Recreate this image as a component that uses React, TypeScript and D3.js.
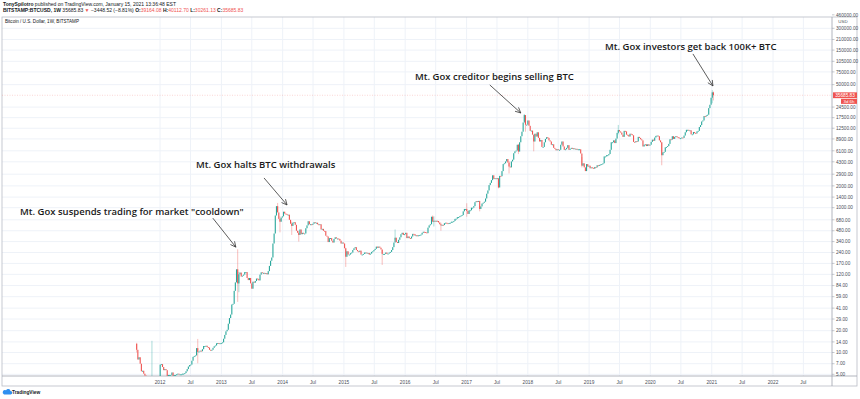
import React from 'react';
import * as d3 from 'd3';

// weekly closes, one array per year; each array starts on the first Monday listed
const start2011 = '2011-08-15';
const close2011 = [10.9, 8.0, 8.6, 7.0, 5.5, 5.6, 5.1, 4.8, 4.1, 3.5, 3.2, 3.3, 2.3, 2.5, 2.5, 2.8, 3.0, 3.3, 3.9, 4.6];
const start2012 = '2012-01-02';
const close2012 = [6.8, 6.9, 6.3, 5.7, 5.9, 5.7, 4.4, 4.9, 4.9, 4.9, 5.3, 4.7, 4.9, 4.9, 5.0, 5.1, 5.0, 5.0, 5.0, 5.1, 5.1, 5.2,
  5.5, 5.9, 6.4, 6.7, 6.8, 7.7, 8.7, 8.9, 9.1, 11.5, 10.2, 10.3, 10.6, 10.4, 11.1, 12.3, 12.3, 12.4, 11.9, 11.7, 10.9, 10.7,
  10.9, 11.6, 12.2, 12.5, 13.4, 13.5, 13.3, 13.4, 13.5];
const start2013 = '2013-01-07';
const close2013 = [13.8, 15.5, 17.5, 19.6, 20.6, 25.0, 29.9, 33.4, 46.0, 47.0, 71.0, 93.0, 141, 90, 120, 127, 112,
  115, 119, 129, 129, 107, 100, 107, 90, 76, 95, 92, 97, 105, 104, 99, 119, 128, 126, 126, 124, 125, 120,
  133, 157, 185, 205, 320, 440, 780, 1050, 860, 700, 640, 730, 760];
const start2014 = '2014-01-06';
const close2014 = [880, 830, 820, 800, 800, 680, 600, 560, 620, 630, 580, 480, 450, 420, 500, 430, 450,
  440, 440, 520, 570, 650, 590, 590, 580, 600, 630, 620, 620, 590, 580, 590, 500, 510,
  480, 475, 410, 400, 335, 380, 380, 350, 330, 370, 390, 375, 375, 370, 350, 320, 330, 320];
const start2015 = '2015-01-05';
const close2015 = [275, 210, 250, 225, 225, 235, 240, 260, 275, 285, 260, 250, 245, 255, 225, 225, 230,
  240, 240, 235, 237, 225, 232, 245, 250, 260, 270, 290, 280, 290, 280, 265, 230, 230,
  230, 240, 230, 232, 240, 245, 260, 285, 330, 385, 335, 325, 360, 390, 430, 450, 420, 430];
const start2016 = '2016-01-04';
const close2016 = [450, 380, 400, 380, 375, 400, 435, 430, 410, 415, 410, 415, 420, 425, 450, 465,
  460, 455, 445, 530, 570, 590, 750, 640, 660, 650, 660, 655, 625, 590, 570, 580, 575,
  610, 620, 610, 605, 615, 620, 640, 640, 655, 700, 705, 740, 740, 760, 775, 790, 890, 960, 960];
const start2017 = '2017-01-02';
const close2017 = [900, 820, 920, 920, 1000, 1000, 1050, 1190, 1230, 1210, 1240, 960, 1040, 1140, 1170, 1210, 1340,
  1560, 1730, 2050, 2200, 2400, 2800, 2500, 2550, 2500, 2550, 1900, 2750, 2720, 3200, 4000, 4100, 4350, 4700,
  4200, 3700, 3600, 4350, 4600, 5650, 6000, 6150, 7400, 5950, 8000, 9700, 11200, 15000, 19000, 14000, 14000];
const start2018 = '2018-01-01';
const close2018 = [16000, 13500, 11500, 11600, 10200, 8200, 10500, 9600, 11000, 9200, 8200, 8600, 6900,
  6900, 8000, 8900, 9400, 9200, 8500, 8200, 7400, 7500, 6700, 6500, 6200, 6400, 6300, 6300, 7400, 8200, 7000,
  6300, 6400, 6700, 7300, 6300, 6500, 6700, 6600, 6600, 6500, 6500, 6400, 6400, 6400, 5600, 3800, 4100,
  3600, 3200, 4000, 3700, 3800];
const start2019 = '2019-01-07';
const close2019 = [3500, 3600, 3550, 3450, 3650, 3600, 3850, 3800, 3900, 3950, 4000, 4100, 5100, 5100, 5300, 5300, 5500,
  6300, 8000, 8000, 8500, 7800, 9000, 10800, 11800, 11300, 10900, 10200, 9500, 11500, 11300, 10200, 10100, 9600,
  10500, 10300, 10000, 8100, 8000, 8300, 8200, 9500, 9200, 8800, 8500, 7000, 7400, 7500, 7100, 7500, 7200, 7400];
const start2020 = '2020-01-06';
const close2020 = [8100, 8700, 8400, 9300, 9800, 9900, 9700, 8500, 8000, 5300, 5800, 5900, 6800, 6900, 7100, 7600, 8800,
  8700, 9700, 8900, 9500, 9700, 9400, 9300, 9100, 9100, 9300, 9200, 9900, 11000, 11900, 11900, 11700, 11700,
  10300, 10300, 11100, 10700, 10600, 11300, 11500, 13000, 13800, 15500, 16000, 18400, 18200, 18800, 19200, 23700, 26400, 33000];
const start2021 = '2021-01-04';
const close2021 = [39134.35, 35685.83];
const firstOpen = 13.2;

// highs / lows of the weeks whose wicks stand out
const wickDates = ['2011-08-15', '2011-11-14', '2012-08-13', '2013-04-08', '2013-04-15', '2013-12-02', '2013-12-16',
  '2014-02-24', '2014-04-07', '2015-01-12', '2015-08-17', '2015-11-02', '2016-06-13', '2016-06-20', '2016-08-01',
  '2017-01-02', '2017-03-20', '2017-07-10', '2017-09-11', '2017-11-06', '2017-12-11', '2017-12-18', '2018-02-05',
  '2018-11-19', '2019-06-24', '2020-03-09', '2021-01-04', '2021-01-11'];
const wickHighs = [13.6, 14.5, 15.4, 266, 130, 1163, 760, 640, 480, 280, 260, 500, 780, 760, 620,
  1150, 1060, 2400, 4400, 7600, 19666, 19000, 9000, 5000, 13880, 8000, 42000, 40112.7];
const wickLows = [10.0, 2.0, 7.1, 50, 68, 870, 456, 420, 340, 152, 162, 360, 690, 550, 480,
  750, 890, 1850, 2970, 5500, 15700, 11200, 6000, 3600, 10300, 3850, 27700, 30261.13];

const priceTicks = [5, 7, 10, 14, 20, 29, 41, 59, 84, 120, 170, 240, 340, 480, 680, 1000, 1400, 2000, 2900, 4300,
  6100, 8900, 12500, 17500, 24500, 50000, 75000, 105000, 150000, 210000, 300000, 460000];
const lastPrice = 35685.83;

const noteTexts = ['Mt. Gox suspends trading for market "cooldown"', 'Mt. Gox halts BTC withdrawals',
  'Mt. Gox creditor begins selling BTC', 'Mt. Gox investors get back 100K+ BTC'];
const noteTipDates = ['2013-03-28', '2014-01-27', '2017-11-20', '2021-01-08'];
const noteTipPrices = [285, 1090, 20330, 48000];

const W = 860;
const H = 399;
const plot = { left: 2, right: 832, top: 17, bottom: 376 };
const UP = '#26a69a';
const DOWN = '#ef5350';
const GRID = '#eef2f8';
const AXIS_TEXT = '#4a4e59';
const SANS = '"Liberation Sans", Arial, sans-serif';

const parse = d3.utcParse('%Y-%m-%d');

const x = d3.scaleUtc()
  .domain([new Date(Date.UTC(2012, 0, 1)), new Date(Date.UTC(2022, 0, 1))])
  .range([160, 773]);
const y = d3.scaleLog().domain([5, 300000]).range([374.3, 28.3]);

const yearSeries = [
  [start2011, close2011], [start2012, close2012], [start2013, close2013], [start2014, close2014],
  [start2015, close2015], [start2016, close2016], [start2017, close2017], [start2018, close2018],
  [start2019, close2019], [start2020, close2020], [start2021, close2021],
] as [string, number[]][];

const App = () => {
  // candles: open is the previous week's close
  const wickMap = new Map<string, [number, number]>();
  wickDates.forEach((d, i) => wickMap.set(d, [wickHighs[i], wickLows[i]]));
  const fmt = d3.utcFormat('%Y-%m-%d');
  const candles: { date: Date; open: number; close: number; hl?: [number, number] }[] = [];
  let prev = firstOpen;
  yearSeries.forEach(([start, closes]) => {
    const s = parse(start)!;
    closes.forEach((c, i) => {
      const date = d3.utcDay.offset(s, i * 7);
      candles.push({ date, open: prev, close: c, hl: wickMap.get(fmt(date)) });
      prev = c;
    });
  });

  const timeTicks = d3.utcMonth.range(new Date(Date.UTC(2012, 0, 1)), new Date(Date.UTC(2022, 7, 1)), 6);
  const lastY = y(lastPrice);

  return (
    <svg width={W} height={H} style={{ position: 'absolute', left: 0, top: 0, background: '#fff' }}
      fontFamily={SANS}>
      <defs>
        <clipPath id="plotClip">
          <rect x={plot.left} y={plot.top} width={plot.right - plot.left} height={plot.bottom - plot.top} />
        </clipPath>
      </defs>

      {/* header */}
      <text x={3} y={5.5} fontSize={5} fill="#131722">
        <tspan fontWeight="bold">TonySpilotro</tspan> published on TradingView.com, January 15, 2021 13:36:48 EST
      </text>
      <text x={3} y={11.5} fontSize={5} fill="#131722">
        <tspan fontWeight="bold">BITSTAMP:BTCUSD, 1W</tspan> 35685.83 <tspan fill={DOWN}>▼</tspan> −3448.52 (−8.81%){' '}
        <tspan fontWeight="bold">O:</tspan><tspan fill={DOWN}>39164.08</tspan>{' '}
        <tspan fontWeight="bold">H:</tspan><tspan fill={DOWN}>40112.70</tspan>{' '}
        <tspan fontWeight="bold">L:</tspan><tspan fill={DOWN}>30261.13</tspan>{' '}
        <tspan fontWeight="bold">C:</tspan><tspan fill={DOWN}>35685.83</tspan>
      </text>

      {/* grid */}
      {priceTicks.filter(p => y(p) > plot.top).map(p => (
        <line key={'h' + p} x1={plot.left} x2={plot.right} y1={y(p)} y2={y(p)} stroke={GRID} strokeWidth={1} />
      ))}
      {timeTicks.map(t => (
        <line key={'v' + t.getTime()} x1={x(t)} x2={x(t)} y1={plot.top} y2={plot.bottom} stroke={GRID} strokeWidth={1} />
      ))}

      {/* frame */}
      <rect x={plot.left} y={plot.top} width={857 - plot.left} height={386 - plot.top} fill="none" stroke="#b8bcc6" strokeWidth={0.8} />
      <line x1={plot.right} x2={plot.right} y1={plot.top} y2={386} stroke="#9ea2ad" strokeWidth={0.8} />
      <line x1={plot.left} x2={857} y1={plot.bottom} y2={plot.bottom} stroke="#9ea2ad" strokeWidth={0.8} />

      <text x={5} y={23} fontSize={4.6} fill="#131722">Bitcoin / U.S. Dollar, 1W, BITSTAMP</text>

      {/* last price line */}
      <line x1={plot.left} x2={plot.right} y1={lastY} y2={lastY} stroke={DOWN} strokeOpacity={0.35}
        strokeWidth={0.7} strokeDasharray="1,1.5" />

      {/* candles */}
      <g clipPath="url(#plotClip)">
        {candles.map((c, i) => {
          const cx = x(c.date);
          const col = c.close >= c.open ? UP : DOWN;
          const y0 = y(c.open);
          const y1 = y(c.close);
          return (
            <g key={i}>
              {c.hl && (
                <line x1={cx} x2={cx} y1={y(c.hl[0])} y2={y(c.hl[1])} stroke={col} strokeOpacity={0.55} strokeWidth={0.7} />
              )}
              <rect x={cx - 0.55} width={1.1} y={Math.min(y0, y1)} height={Math.max(0.9, Math.abs(y1 - y0))} fill={col} />
            </g>
          );
        })}
      </g>

      {/* price axis */}
      {priceTicks.map(p => (
        <g key={'t' + p} transform={`translate(${plot.right},${y(p)})`}>
          <line x1={0} x2={2.5} stroke="#9ea2ad" strokeWidth={0.6} />
          <text x={4} dy="1.7" fontSize={4.7} fill={AXIS_TEXT}>{p.toFixed(2)}</text>
        </g>
      ))}
      <text x={843} y={22.5} fontSize={4.4} fill={AXIS_TEXT} textAnchor="middle">USD</text>
      <rect x={833} y={lastY - 2.9} width={24} height={5.8} fill={DOWN} />
      <text x={845} y={lastY + 1.7} fontSize={4.7} fill="#fff" textAnchor="middle">{lastPrice.toFixed(2)}</text>
      <rect x={841} y={lastY + 3.6} width={16} height={5} fill={DOWN} />
      <text x={849} y={lastY + 7.5} fontSize={4.4} fill="#fff" textAnchor="middle">3d 6h</text>

      {/* time axis */}
      {timeTicks.map(t => (
        <text key={'l' + t.getTime()} x={x(t)} y={383.5} fontSize={4.8} fill={AXIS_TEXT} textAnchor="middle">
          {t.getUTCMonth() === 0 ? d3.utcFormat('%Y')(t) : 'Jul'}
        </text>
      ))}

      {/* annotations */}
      {noteTexts.map((txt, i) => {
        const tx = x(parse(noteTipDates[i])!);
        const ty = y(noteTipPrices[i]);
        const starts = [[-23, -29], [-23, -27], [-31, -28], [-20, -32]];
        const textPos = [[20, 215], [196, 168], [415, 80], [605, 50]];
        const sx = tx + starts[i][0];
        const sy = ty + starts[i][1];
        const ang = Math.atan2(ty - sy, tx - sx);
        const head = 6;
        const a1 = ang + Math.PI - 0.45;
        const a2 = ang + Math.PI + 0.45;
        return (
          <g key={'n' + i}>
            <text x={textPos[i][0]} y={textPos[i][1]} fontSize={9.5} fontWeight={600}
              fontFamily='"Open Sans", sans-serif' fill="#1a1a1a">{txt}</text>
            <line x1={sx} y1={sy} x2={tx} y2={ty} stroke="#333" strokeWidth={0.8} />
            <polyline points={`${tx + head * Math.cos(a1)},${ty + head * Math.sin(a1)} ${tx},${ty} ${tx + head * Math.cos(a2)},${ty + head * Math.sin(a2)}`}
              fill="none" stroke="#333" strokeWidth={0.8} />
          </g>
        );
      })}

      {/* footer logo */}
      <path d="M4,394.5 h6.5 a1.8,1.8 0 0 0 0,-3.6 a2.4,2.4 0 0 0 -4.4,-0.6 a1.9,1.9 0 0 0 -2.1,4.2 z" fill="#2e8ff0" />
      <text x={12} y={394} fontSize={4.8} fontWeight="bold" fill="#131722">TradingView</text>
    </svg>
  );
};

export default App;
